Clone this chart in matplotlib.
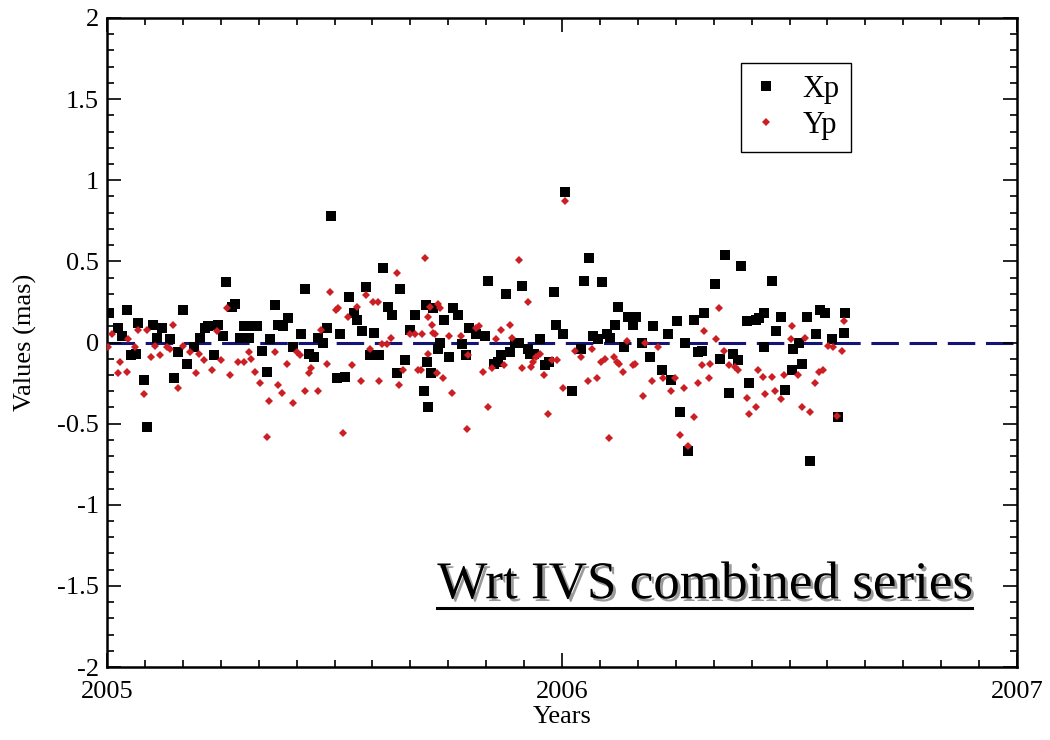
import numpy as np
import matplotlib
matplotlib.use('Agg')
from matplotlib import pyplot as plt
from matplotlib.ticker import MultipleLocator, FormatStrFormatter
from matplotlib.lines import Line2D
import matplotlib.patheffects as pe

plt.rcParams['font.family'] = ['Liberation Serif', 'DejaVu Serif']
plt.rcParams['axes.unicode_minus'] = False

# Xp residuals (decimal year, mas)
xp_t = [2005.004, 2005.024, 2005.045, 2005.032, 2005.053, 2005.063, 2005.069, 2005.081, 2005.089, 2005.102,
        2005.109, 2005.120, 2005.138, 2005.147, 2005.157, 2005.166, 2005.176, 2005.192, 2005.204, 2005.215,
        2005.221, 2005.235, 2005.243, 2005.254, 2005.261, 2005.274, 2005.281, 2005.292, 2005.300, 2005.312,
        2005.320, 2005.329, 2005.340, 2005.351, 2005.358, 2005.369, 2005.376, 2005.387, 2005.397, 2005.409,
        2005.426, 2005.435, 2005.445, 2005.455, 2005.464, 2005.474, 2005.483, 2005.492, 2005.506, 2005.512,
        2005.522, 2005.532, 2005.542, 2005.549, 2005.560, 2005.569, 2005.578, 2005.587, 2005.598, 2005.607,
        2005.618, 2005.627, 2005.637, 2005.645, 2005.655, 2005.666, 2005.678, 2005.697, 2005.700, 2005.703,
        2005.706, 2005.712, 2005.717, 2005.728, 2005.732, 2005.741, 2005.752, 2005.761, 2005.771, 2005.780,
        2005.789, 2005.796, 2005.810, 2005.831, 2005.837, 2005.851, 2005.859, 2005.867, 2005.876, 2005.886,
        2005.897, 2005.905, 2005.913, 2005.925, 2005.930, 2005.939, 2005.952, 2005.963, 2005.971, 2005.983,
        2005.986, 2006.003, 2006.007, 2006.021, 2006.042, 2006.049, 2006.059, 2006.069, 2006.078, 2006.087,
        2006.098, 2006.105, 2006.116, 2006.124, 2006.136, 2006.144, 2006.155, 2006.163, 2006.176, 2006.193,
        2006.201, 2006.220, 2006.232, 2006.240, 2006.252, 2006.259, 2006.270, 2006.276, 2006.291, 2006.298,
        2006.307, 2006.312, 2006.336, 2006.347, 2006.358, 2006.366, 2006.376, 2006.386, 2006.393, 2006.406,
        2006.412, 2006.426, 2006.433, 2006.445, 2006.445, 2006.461, 2006.470, 2006.481, 2006.489, 2006.506,
        2006.508, 2006.521, 2006.528, 2006.538, 2006.545, 2006.558, 2006.566, 2006.578, 2006.594, 2006.606,
        2006.620, 2006.623]
xp_v = [0.18, 0.09, 0.20, 0.04, -0.08, -0.07, 0.12, -0.23, -0.52, 0.11,
        0.03, 0.09, 0.02, -0.22, -0.06, 0.20, -0.13, -0.03, 0.03, 0.09,
        0.10, -0.08, 0.11, 0.04, 0.37, 0.22, 0.24, 0.03, 0.10, 0.03,
        0.10, 0.10, -0.05, -0.18, 0.02, 0.23, 0.11, 0.10, 0.15, -0.03,
        0.05, 0.33, -0.07, -0.09, 0.03, 0.00, 0.09, 0.78, -0.22, 0.05,
        -0.21, 0.28, 0.18, 0.14, 0.07, 0.34, -0.08, 0.06, -0.08, 0.46,
        0.22, 0.17, -0.19, 0.33, -0.11, 0.08, 0.17, -0.30, 0.23, -0.12,
        -0.40, -0.19, 0.21, -0.04, 0.00, 0.14, -0.09, 0.21, 0.17, -0.01,
        -0.08, 0.09, 0.05, 0.04, 0.38, -0.13, -0.12, -0.08, 0.30, -0.06,
        0.00, 0.00, 0.35, -0.04, -0.07, -0.07, 0.02, -0.14, -0.12, 0.31,
        0.11, 0.05, 0.93, -0.30, -0.04, 0.38, 0.52, 0.04, 0.02, 0.37,
        0.05, 0.03, 0.11, 0.22, -0.03, 0.16, 0.11, 0.16, 0.00, -0.09,
        0.10, -0.17, 0.05, -0.23, 0.13, -0.43, 0.00, -0.67, 0.14, -0.06,
        -0.05, 0.18, 0.36, -0.10, 0.54, -0.31, -0.07, -0.11, 0.47, 0.13,
        -0.25, 0.14, 0.15, 0.18, -0.03, 0.38, 0.07, 0.16, -0.29, -0.17,
        -0.04, 0.00, -0.13, 0.16, -0.73, 0.05, 0.20, 0.18, 0.02, -0.46,
        0.06, 0.18]

# Yp residuals (decimal year, mas)
yp_t = [2005.002, 2005.012, 2005.024, 2005.029, 2005.045, 2005.047, 2005.062, 2005.069, 2005.081, 2005.087,
        2005.097, 2005.105, 2005.116, 2005.131, 2005.138, 2005.146, 2005.157, 2005.168, 2005.182, 2005.195,
        2005.203, 2005.214, 2005.231, 2005.241, 2005.251, 2005.263, 2005.270, 2005.287, 2005.300, 2005.311,
        2005.316, 2005.326, 2005.336, 2005.351, 2005.356, 2005.369, 2005.376, 2005.385, 2005.396, 2005.409,
        2005.417, 2005.424, 2005.435, 2005.444, 2005.448, 2005.463, 2005.470, 2005.483, 2005.490, 2005.503,
        2005.508, 2005.519, 2005.529, 2005.538, 2005.549, 2005.558, 2005.569, 2005.578, 2005.585, 2005.595,
        2005.598, 2005.604, 2005.615, 2005.624, 2005.637, 2005.642, 2005.651, 2005.666, 2005.677, 2005.692,
        2005.684, 2005.690, 2005.699, 2005.705, 2005.706, 2005.710, 2005.714, 2005.717, 2005.721, 2005.725,
        2005.728, 2005.732, 2005.739, 2005.752, 2005.758, 2005.778, 2005.791, 2005.794, 2005.811, 2005.818,
        2005.827, 2005.837, 2005.847, 2005.856, 2005.867, 2005.873, 2005.886, 2005.889, 2005.905, 2005.911,
        2005.925, 2005.932, 2005.937, 2005.942, 2005.952, 2005.961, 2005.970, 2005.977, 2005.990, 2006.007,
        2006.003, 2006.029, 2006.042, 2006.057, 2006.067, 2006.076, 2006.086, 2006.095, 2006.104, 2006.115,
        2006.120, 2006.125, 2006.135, 2006.142, 2006.155, 2006.160, 2006.179, 2006.182, 2006.197, 2006.212,
        2006.223, 2006.240, 2006.248, 2006.259, 2006.269, 2006.276, 2006.291, 2006.298, 2006.307, 2006.311,
        2006.326, 2006.324, 2006.338, 2006.346, 2006.355, 2006.367, 2006.380, 2006.386, 2006.406, 2006.412,
        2006.426, 2006.430, 2006.441, 2006.446, 2006.461, 2006.467, 2006.481, 2006.487, 2006.506, 2006.503,
        2006.518, 2006.527, 2006.535, 2006.546, 2006.556, 2006.565, 2006.574, 2006.584, 2006.595, 2006.604,
        2006.616, 2006.620]
yp_v = [-0.03, 0.05, -0.19, -0.12, -0.18, 0.02, -0.03, 0.08, -0.32, 0.08,
        -0.09, -0.02, -0.08, -0.03, -0.04, 0.11, -0.28, -0.02, -0.06, -0.19,
        -0.07, -0.11, -0.17, 0.07, -0.11, 0.21, -0.20, -0.12, -0.12, -0.06,
        -0.10, -0.18, -0.25, -0.58, -0.36, -0.06, -0.26, -0.31, -0.13, -0.37,
        -0.06, -0.08, -0.30, -0.19, -0.16, -0.30, 0.08, -0.13, 0.31, 0.20,
        0.21, -0.56, 0.16, -0.14, 0.22, -0.24, 0.29, -0.04, 0.25, 0.25,
        -0.24, -0.01, -0.01, 0.03, 0.43, -0.26, -0.17, 0.05, 0.05, 0.05,
        -0.17, -0.17, 0.52, -0.07, 0.16, 0.22, 0.11, 0.06, 0.05, -0.19,
        0.24, 0.21, -0.22, 0.04, -0.31, 0.04, -0.53, -0.08, 0.09, 0.10,
        -0.18, -0.40, -0.16, 0.02, 0.08, -0.14, 0.11, 0.03, 0.51, -0.16,
        0.25, -0.15, -0.12, -0.09, -0.07, -0.20, -0.44, -0.11, -0.11, 0.87,
        -0.28, -0.05, -0.09, -0.24, -0.04, -0.22, -0.12, -0.10, -0.59, -0.09,
        -0.12, -0.13, -0.18, 0.01, -0.14, -0.13, -0.33, 0.00, -0.24, -0.03,
        -0.22, -0.30, -0.22, -0.57, -0.28, -0.64, -0.46, -0.25, -0.14, 0.07,
        -0.13, -0.22, 0.02, 0.21, -0.05, -0.14, -0.15, -0.17, -0.34, -0.44,
        -0.40, -0.17, -0.21, -0.32, -0.21, -0.30, -0.35, -0.20, 0.10, 0.02,
        -0.20, -0.40, 0.03, -0.43, -0.25, -0.18, -0.17, -0.02, -0.03, -0.45,
        -0.05, 0.13]

fig = plt.figure(figsize=(10.5, 7.4), dpi=100)
ax = fig.add_axes([0.1019, 0.0986, 0.8667, 0.8771])

ax.axhline(0, color='#141478', lw=2.2, ls=(0, (9, 3.5)), zorder=1)
ax.plot(xp_t, xp_v, 's', color='black', ms=6.8, mew=0, label='Xp', zorder=3)
ax.plot(yp_t, yp_v, 'D', color='#cc1f24', ms=3.9, mew=0, label='Yp', zorder=4)

ax.set_xlim(2005, 2007)
ax.set_ylim(-2, 2)
ax.xaxis.set_major_locator(MultipleLocator(1))
ax.xaxis.set_minor_locator(MultipleLocator(1 / 12))
ax.yaxis.set_major_locator(MultipleLocator(0.5))
ax.yaxis.set_minor_locator(MultipleLocator(0.1))
ax.xaxis.set_major_formatter(FormatStrFormatter('%d'))
ax.yaxis.set_major_formatter(plt.FuncFormatter(lambda v, p: '%g' % v))
ax.tick_params(which='both', direction='in', top=True, right=True, labelsize=19, width=1.2, colors='black')
ax.tick_params(which='major', length=10, pad=6)
ax.tick_params(axis='x', which='major', pad=10)
ax.tick_params(which='minor', length=5)
for s in ax.spines.values():
    s.set_linewidth(1.8)

ax.set_xlabel('Years', fontsize=19, labelpad=2)
ax.set_ylabel('Values (mas)', fontsize=19, labelpad=14)

leg = ax.legend(loc='upper left', bbox_to_anchor=(0.6967, 0.931), borderaxespad=0, fontsize=22,
                frameon=True, fancybox=False, framealpha=1, edgecolor='black', handlelength=0.85,
                handletextpad=0.75, borderpad=0.4, labelspacing=0.22, markerscale=1.0)
leg.get_frame().set_linewidth(1.0)

txt = ax.text(0.363, 0.106, 'Wrt IVS combined series', transform=ax.transAxes, fontsize=38.2,
              ha='left', va='baseline', color='black',
              path_effects=[pe.withSimplePatchShadow(offset=(2, -2), shadow_rgbFace='#9a9a9a', alpha=1.0)])

# underline under the annotation
fig.canvas.draw()
bb = txt.get_window_extent(renderer=fig.canvas.get_renderer())
inv = fig.transFigure.inverted()
x0, y0 = inv.transform((bb.x0, bb.y0 + 1))
x1, _ = inv.transform((bb.x1, bb.y0 + 1))
fig.add_artist(Line2D([x0, x1], [y0, y0], color='black', lw=2.2,
                      path_effects=[pe.withSimplePatchShadow(offset=(2, -2), shadow_rgbFace='#9a9a9a', alpha=1.0)]))

fig.savefig('out.png', dpi=100)
